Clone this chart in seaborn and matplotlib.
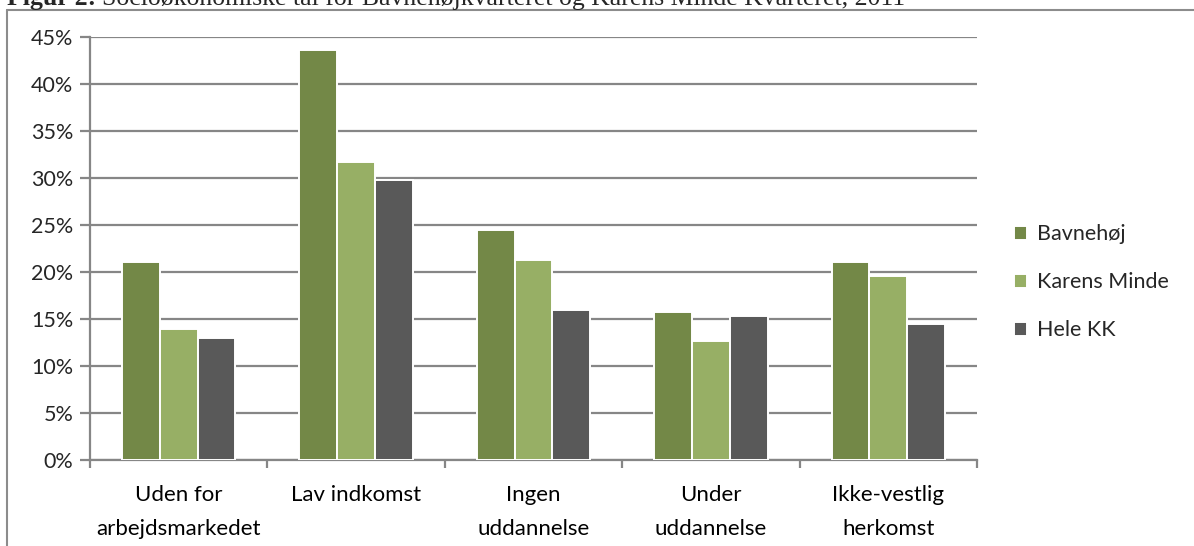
import matplotlib
matplotlib.use("Agg")
import matplotlib.pyplot as plt
import seaborn as sns
import pandas as pd
import numpy as np
from matplotlib.lines import Line2D
from matplotlib.ticker import FixedLocator, PercentFormatter

# values (percent)
categories = ["Uden for\narbejdsmarkedet", "Lav indkomst", "Ingen\nuddannelse",
              "Under\nuddannelse", "Ikke-vestlig\nherkomst"]
series = ["Bavnehøj", "Karens Minde", "Hele KK"]
bavnehoj = [21.1, 43.6, 24.5, 15.7, 21.1]
karens_minde = [13.9, 31.7, 21.3, 12.7, 19.6]
hele_kk = [13.0, 29.8, 16.0, 15.3, 14.5]
colors = ["#77933C", "#9BBB59", "#595959"]

df = pd.DataFrame({
    "Kategori": categories * 3,
    "Område": [s for s in series for _ in categories],
    "Andel": bavnehoj + karens_minde + hele_kk,
})

sns.set_style("white")
plt.rcParams["font.family"] = ["Lato", "DejaVu Sans"]

W, H = 1194, 546
fig = plt.figure(figsize=(W / 100, H / 100), dpi=100)
ax = fig.add_axes([90 / W, 86 / H, (977 - 90) / W, (460 - 37) / H])

sns.barplot(data=df, x="Kategori", y="Andel", hue="Område", palette=colors,
            width=0.64, edgecolor="white", linewidth=1.4, ax=ax, zorder=3)

ax.set_ylim(0, 45)
ax.set_xlim(-0.5, 4.5)
ax.set_yticks(np.arange(0, 46, 5))
ax.yaxis.set_major_formatter(PercentFormatter(decimals=0))
ax.yaxis.grid(True, color="#868686", linewidth=1.6, zorder=0)
ax.set_axisbelow(True)
ax.set_xlabel("")
ax.set_ylabel("")

for side in ["top", "right"]:
    ax.spines[side].set_visible(False)
for side in ["left", "bottom"]:
    ax.spines[side].set_color("#868686")
    ax.spines[side].set_linewidth(1.6)

ax.tick_params(axis="y", length=7, width=1.6, color="#868686", labelsize=15.5,
               pad=5, left=True)
ax.tick_params(axis="x", which="major", length=0, labelsize=16, pad=18)
ax.xaxis.set_minor_locator(FixedLocator(np.arange(-0.5, 5, 1)))
ax.tick_params(axis="x", which="minor", length=6, width=1.6, color="#868686",
               direction="out", bottom=True)
for lab in ax.get_xticklabels():
    lab.set_linespacing(1.9)
    lab.set_color("black")

leg = ax.legend(loc="center left", bbox_to_anchor=(1.032, 0.42), frameon=False,
                fontsize=15.5, handlelength=0.6, handleheight=0.6,
                handletextpad=0.45, labelspacing=1.3, borderaxespad=0)

# outer chart frame (top and left edges visible in the crop)
fig.add_artist(Line2D([7 / W, 1.0], [1 - 10 / H, 1 - 10 / H],
                      transform=fig.transFigure, color="#8c8c8c", linewidth=1.5))
fig.add_artist(Line2D([7 / W, 7 / W], [0.0, 1 - 10 / H],
                      transform=fig.transFigure, color="#8c8c8c", linewidth=1.5))

# caption above the chart, cut off at the top edge of the picture
base_y = 1 - 5 / H
t1 = fig.text(7 / W, base_y, "Figur 2:", family="Liberation Serif",
              fontweight="bold", fontsize=18.5, va="baseline", ha="left")
renderer = fig.canvas.get_renderer()
x_end = t1.get_window_extent(renderer).x1 / W
fig.text(x_end + 6 / W, base_y,
         "Socioøkonomiske tal for Bavnehøjkvarteret og Karens Minde Kvarteret, 2011",
         family="Liberation Serif", fontsize=18.5, va="baseline", ha="left")

fig.savefig("out.png", dpi=100)
